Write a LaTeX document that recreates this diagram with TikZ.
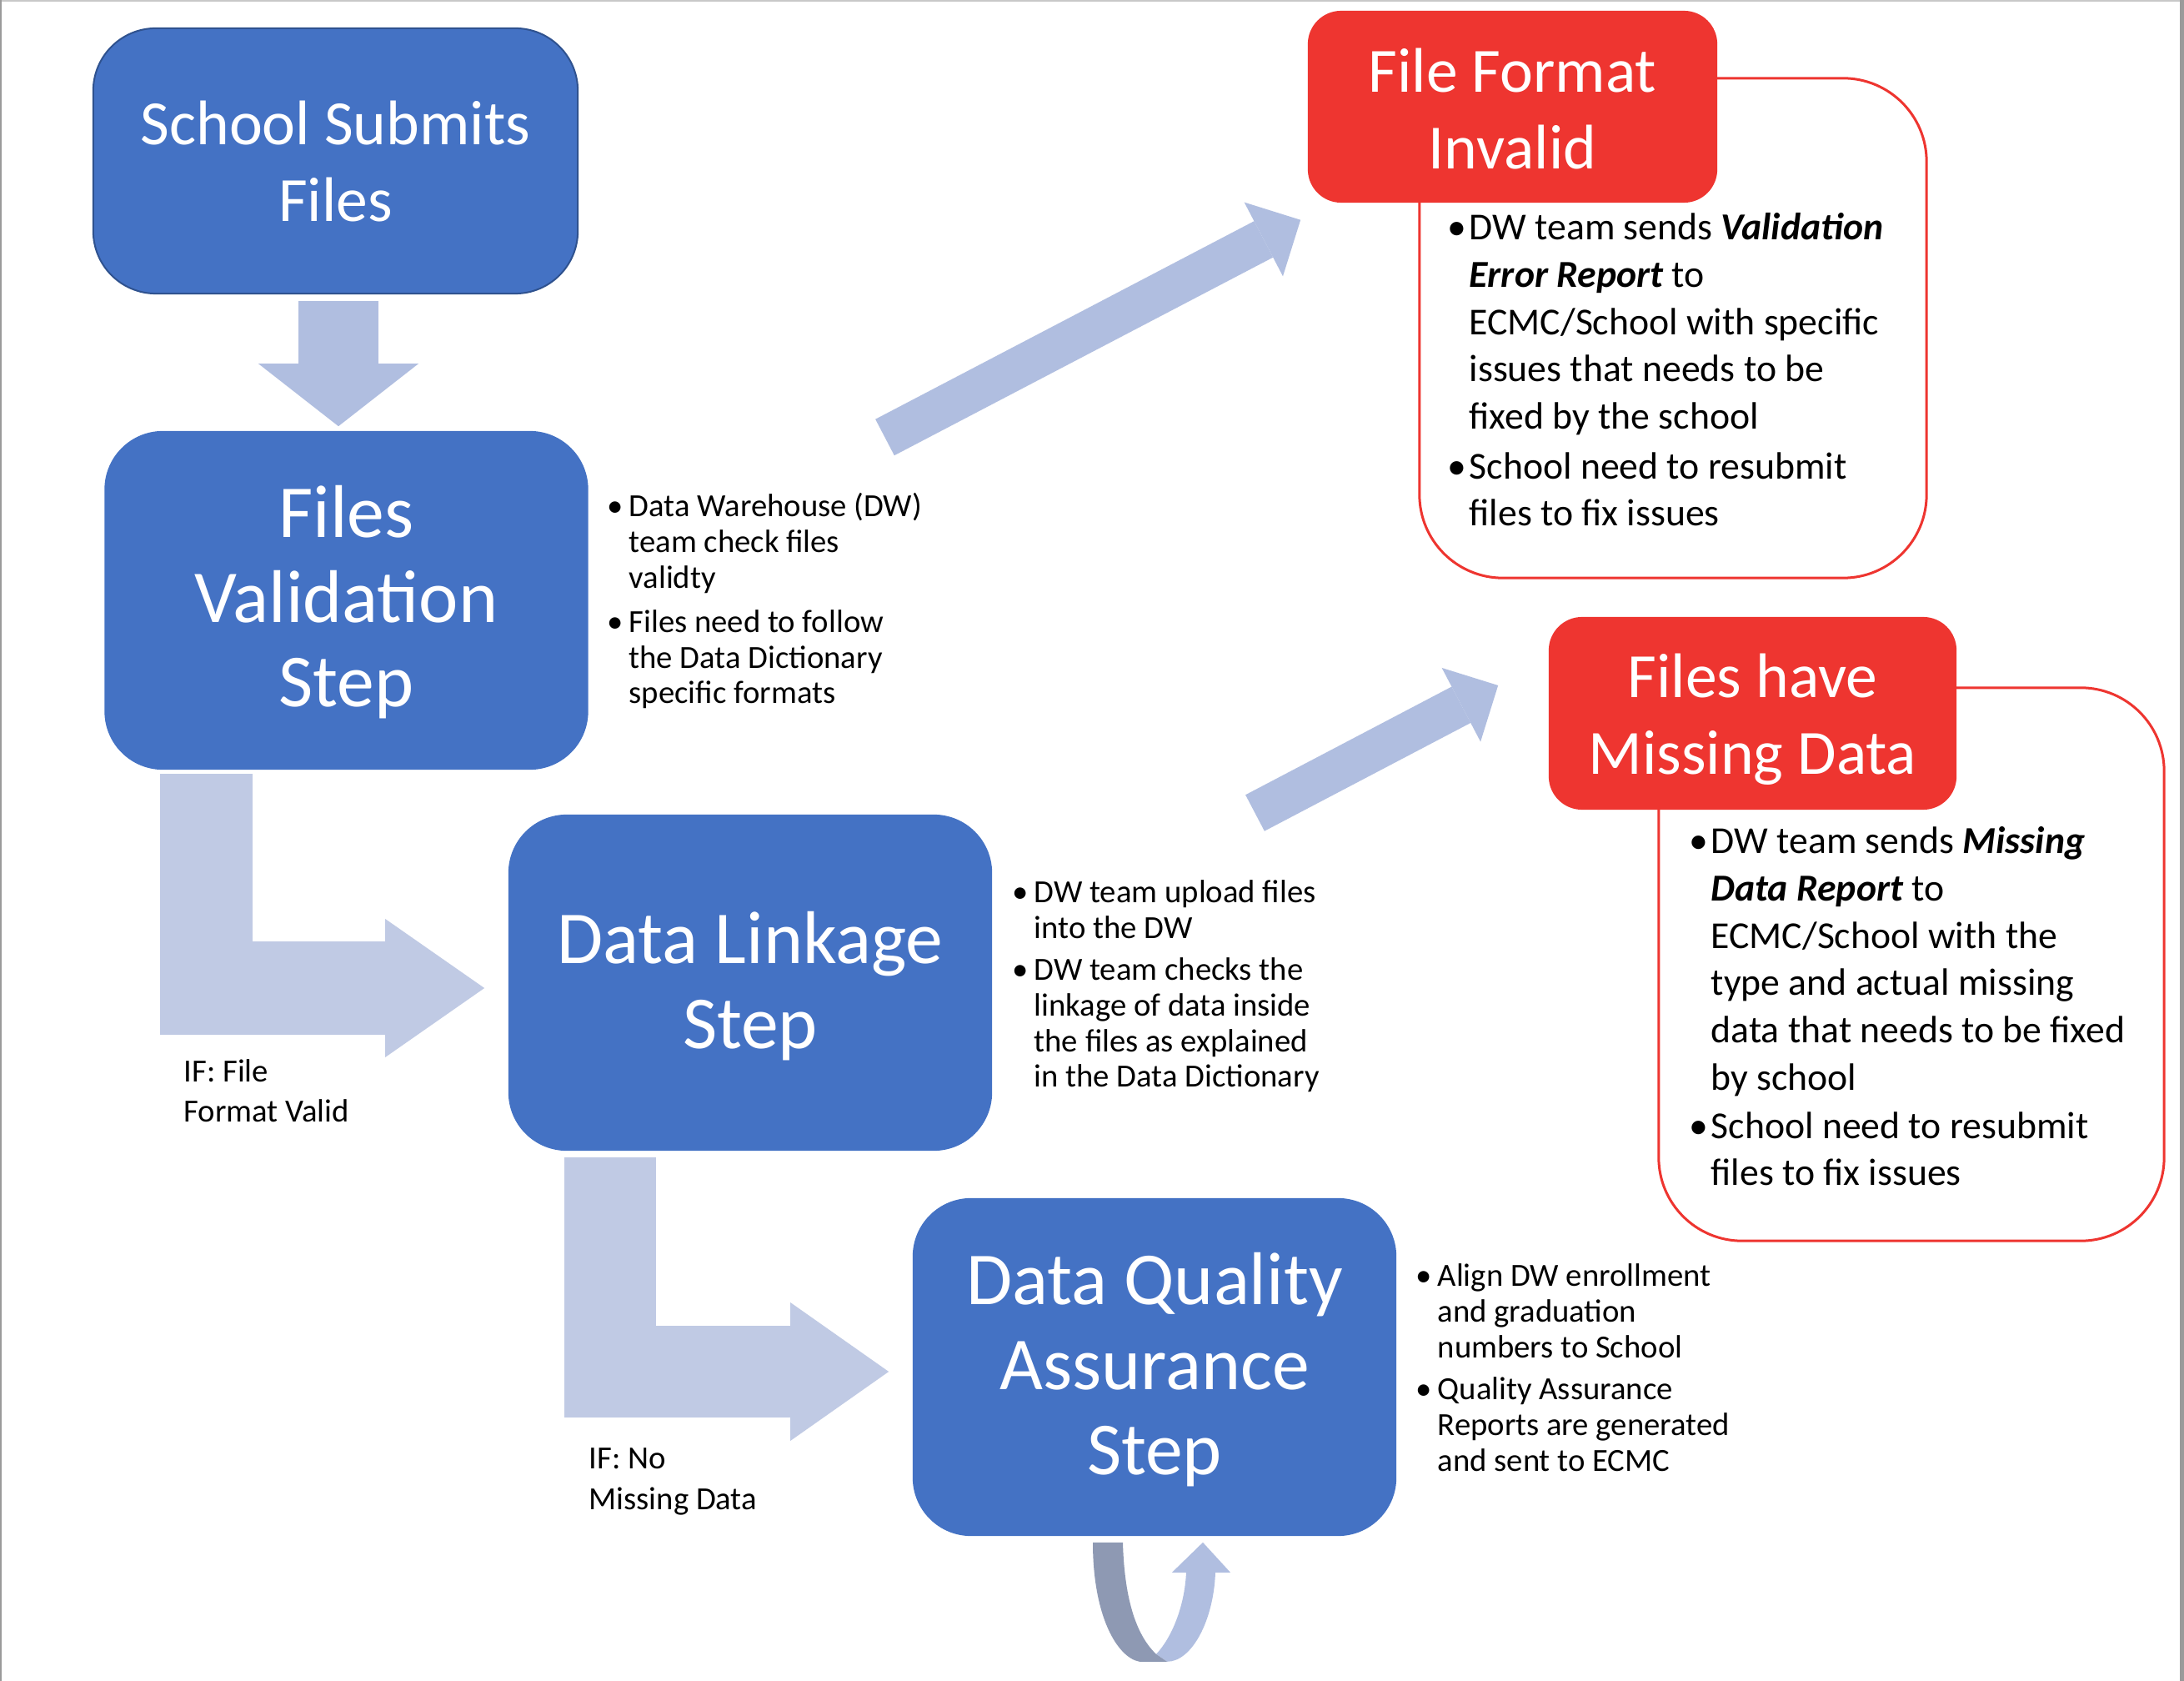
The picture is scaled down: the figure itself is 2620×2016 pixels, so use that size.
\documentclass[tikz,border=0pt]{standalone}
\usepackage{fontspec}
\setmainfont{Carlito}
\usepackage{tikz}
\usepackage{xcolor}
\usetikzlibrary{
    arrows.meta,
    calc
}

\definecolor{stepblue}{HTML}{4472C4}
\definecolor{stepedge}{HTML}{2F528F}
\definecolor{alertred}{HTML}{EE3530}
\definecolor{arrowblue}{HTML}{B0BEE0}
\definecolor{bentblue}{HTML}{C0CAE4}
\definecolor{loopdark}{HTML}{8E99B3}
\definecolor{framegray}{HTML}{9A9A9A}
\definecolor{topgray}{HTML}{C8C8C8}

\newcommand{\bulitem}{\makebox[0.26cm][l]{•}}
\newcommand{\bulpad}{\hspace*{0.26cm}}

\tikzset{
    stepbox/.style={rectangle, fill=stepblue, text=white, rounded corners=0.7cm,
        align=center, inner sep=0pt, minimum width=5.8cm, minimum height=4.05cm,
        text depth=0pt, font=\fontsize{25.5}{29}\selectfont},
    alertbox/.style={rectangle, fill=alertred, text=white, rounded corners=0.4cm,
        align=center, inner sep=0pt, text depth=0pt, font=\fontsize{21.5}{26}\selectfont},
    alertframe/.style={rectangle, draw=alertred, line width=0.03cm,
        rounded corners=1cm, inner sep=0pt},
    notes/.style={anchor=base west, align=left, inner sep=0pt,
        font=\fontsize{11}{12.2}\selectfont},
    alertnotes/.style={notes, font=\fontsize{13}{16.1}\selectfont},
    iflabel/.style={notes, font=\fontsize{11}{13.7}\selectfont},
    fatarrow/.style n args={3}{draw=arrowblue, line width=#1,
        -{Triangle[length=#2, width=#3, line width=0pt]}}
}

\begin{document}
\begin{tikzpicture}[x=0.01cm, y=-0.01cm]
    \useasboundingbox (0,0) rectangle (2620,2016);
    \fill[white] (0,0) rectangle (2620,2016);
    \fill[topgray] (0,0) rectangle (2620,2);
    \fill[framegray] (0,0) rectangle (2,2016);
    \fill[framegray] (2615,0) rectangle (2620,2016);

    \node[stepbox, draw=stepedge, line width=0.02cm, rounded corners=0.75cm,
        minimum width=5.81cm, minimum height=3.18cm, text height=41pt,
        font=\fontsize{21.5}{26}\selectfont] (school) at (402.5,193) {School Submits\\Files};
    \node[stepbox, minimum height=4.06cm, text height=72.8pt] (valid) at (415.5,720) {Files\\Validation\\Step};
    \node[stepbox, minimum height=4.03cm, text height=45pt] (link) at (900,1178.5) {Data Linkage\\Step};
    \node[stepbox, text height=73.1pt] (dqa) at (1385,1639.5) {Data Quality\\Assurance\\Step};

    \node[alertframe, minimum width=6.08cm, minimum height=5.99cm] (fmtframe) at (2007,393.5) {};
    \node[alertframe, minimum width=6.06cm, minimum height=6.63cm] (missframe) at (2293,1156.5) {};
    \node[alertbox, minimum width=4.91cm, minimum height=2.3cm, text height=42.1pt] (fmtbad) at (1814.5,128) {File Format\\Invalid};
    \node[alertbox, minimum width=4.89cm, minimum height=2.31cm, text height=41.25pt] (missing) at (2102.5,855.5) {Files have\\Missing Data};

    \node[notes] (validnotes) at (728,844) {\bulitem Data Warehouse (DW)\\ \bulpad team check files\\ \bulpad validty\\[2.8pt]
        \bulitem Files need to follow\\ \bulpad the Data Dictionary\\ \bulpad specific formats};
    \node[notes] (linknotes) at (1214,1304) {\bulitem DW team upload files\\ \bulpad into the DW\\[2pt]
        \bulitem DW team checks the\\ \bulpad linkage of data inside\\ \bulpad the files as explained\\ \bulpad in the Data Dictionary};
    \node[notes] (dqanotes) at (1698,1764) {\bulitem Align DW enrollment\\ \bulpad and graduation\\ \bulpad numbers to School\\[2pt]
        \bulitem Quality Assurance\\ \bulpad Reports are generated\\ \bulpad and sent to ECMC};
    \node[alertnotes] (fmtnotes) at (1736,631) {\bulitem DW team sends \textbf{\textit{Validation}}\\ \bulpad \textbf{\textit{Error Report}} to\\
        \bulpad ECMC/School with specific\\ \bulpad issues that needs to be\\ \bulpad fixed by the school\\[1pt]
        \bulitem School need to resubmit\\ \bulpad files to fix issues};
    \node[alertnotes] (missnotes) at (2026,1422) {\bulitem DW team sends \textbf{\textit{Missing}}\\ \bulpad \textbf{\textit{Data Report}} to\\
        \bulpad ECMC/School with the\\ \bulpad type and actual missing\\ \bulpad data that needs to be fixed\\ \bulpad by school\\[0.5pt]
        \bulitem School need to resubmit\\ \bulpad files to fix issues};

    \node[iflabel] (validok) at (220,1346) {IF: File\\Format Valid};
    \node[iflabel] (linkok) at (706,1810) {IF: No\\Missing Data};

    \coordinate (fmtfrom) at (1061.5,524.5);
    \coordinate (fmtto) at ($(fmtbad.south west)+(-8,20)$);
    \coordinate (missfrom) at (1505.5,975);
    \coordinate (missto) at ($(missing.west)+(-60,-33.5)$);

    \draw[fatarrow={0.96cm}{0.75cm}{1.92cm}] ($(school.south)+(3.5,8)$) -- ($(valid.north)+(-9.5,-5)$);
    \draw[fatarrow={1.11cm}{1.19cm}{1.66cm}, draw=bentblue] ($(valid.south west)+(122.5,4)$) |- ($(link.west)+(-28,6.5)$);
    \draw[fatarrow={1.1cm}{1.18cm}{1.66cm}, draw=bentblue] ($(link.south west)+(122.5,7)$) |- ($(dqa.west)+(-28,5.5)$);
    \draw[fatarrow={0.49cm}{0.5cm}{1cm}] (fmtfrom) -- (fmtto);
    \draw[fatarrow={0.49cm}{0.5cm}{1cm}] (missfrom) -- (missto);

    \begin{scope}[shift={(dqa.south)}]
        \fill[arrowblue] (2,141) .. controls (20,122) and (36,85) .. (38,43) -- (21,43) -- (58,7) -- (91,43) -- (73,43)
            .. controls (71,100) and (45,150) .. (15,150) -- cycle;
        \fill[loopdark] (-74,7) -- (-38,7) .. controls (-36,80) and (-20,120) .. (2,141) -- (15,150) -- (-18,150)
            .. controls (-45,145) and (-74,95) .. (-74,7) -- cycle;
    \end{scope}
\end{tikzpicture}
\end{document}
